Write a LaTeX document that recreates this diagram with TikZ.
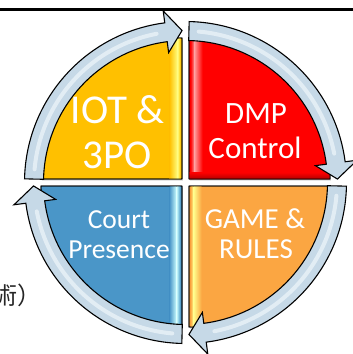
\documentclass[tikz,border=0pt]{standalone}
\usepackage{fontspec}
\setmainfont{Carlito}
\newfontfamily\jpfont{Noto Sans CJK JP}
\usetikzlibrary{calc}

\definecolor{qyellow}{HTML}{FFC000}
\definecolor{qred}{HTML}{FF0000}
\definecolor{qorange}{HTML}{FBA642}
\definecolor{qblue}{HTML}{4A96C8}
\definecolor{ringfill}{HTML}{C6D9E7}
\definecolor{ringlight}{HTML}{EAF2F8}

\tikzset{
  wedge/.style={draw=black, line width=0.9pt, line join=round},
  ringarrow/.style={fill=ringfill, draw=black, line width=1.1pt, line join=miter},
  ringshine/.style={draw=ringlight, line width=4pt, line cap=round, opacity=0.8},
  label/.style={text=white, inner sep=0pt, anchor=base},
}

% one quadrant: corner offset, start angle, end angle, colour
\newcommand{\quadwedge}[4]{%
  \fill[black!35, opacity=0.45] ($(#1)+(0.8,-1.6)$) -- ++(#2:141pt)
    arc[start angle=#2, end angle=#3, radius=141pt] -- cycle;
  \filldraw[wedge, fill=#4] (#1) -- ++(#2:141pt)
    arc[start angle=#2, end angle=#3, radius=141pt] -- cycle;
}

% one ring segment with arrow head: start angle, head base angle, tip angle
\newcommand{\ringseg}[3]{%
  \filldraw[ringarrow] (#1:161pt) arc[start angle=#1, end angle=#2, radius=161pt]
    -- (#2:173pt) -- (#3:152pt) -- (#2:131pt) -- (#2:142pt)
    arc[start angle=#2, end angle=#1, radius=142pt] -- cycle;
}

\begin{document}
\begin{tikzpicture}[x=1pt, y=1pt]
\useasboundingbox (0,0) rectangle (353,-354);

% rule across the top
\draw[line width=2.6pt] (0,-9.5) -- (353,-9.5);

\begin{scope}[shift={(185.5,-182.5)}]
  \coordinate (c) at (0,0);
  \coordinate (ctl) at (-3.5,3.5);
  \coordinate (ctr) at (3.5,3.5);
  \coordinate (cbr) at (3.5,-3.5);
  \coordinate (cbl) at (-3.5,-3.5);

  % the four quadrants
  \quadwedge{ctl}{180}{90}{qyellow}
  \quadwedge{ctr}{90}{0}{qred}
  \quadwedge{cbr}{0}{-90}{qorange}
  \quadwedge{cbl}{-90}{-180}{qblue}

  % glossy stripes along the inner vertical edges
  \begin{scope}
    \clip (ctl) -- ++(180:141pt) arc[start angle=180, end angle=90, radius=141pt] -- cycle;
    \shade[left color=qyellow, right color=yellow!50!white] (-16,3.5) rectangle (-8,150);
    \shade[left color=yellow!50!white, right color=qyellow] (-8,3.5) rectangle (-5,150);
  \end{scope}
  \begin{scope}
    \clip (ctr) -- ++(90:141pt) arc[start angle=90, end angle=0, radius=141pt] -- cycle;
    \shade[left color=qred, right color=red!40!white] (5,3.5) rectangle (9,150);
    \shade[left color=red!40!white, right color=qred] (9,3.5) rectangle (17,150);
    \shade[top color=qred, bottom color=red!70!black] (3.5,10) rectangle (150,3.5);
  \end{scope}
  \begin{scope}
    \clip (cbr) -- ++(0:141pt) arc[start angle=0, end angle=-90, radius=141pt] -- cycle;
    \shade[left color=qorange, right color=yellow!45!white] (5,-3.5) rectangle (8,-150);
    \shade[left color=yellow!45!white, right color=qorange] (8,-3.5) rectangle (16,-150);
  \end{scope}
  \begin{scope}
    \clip (cbl) -- ++(-90:141pt) arc[start angle=-90, end angle=-180, radius=141pt] -- cycle;
    \shade[left color=qblue, right color=cyan!20!white] (-16,-3.5) rectangle (-9,-150);
    \shade[left color=cyan!20!white, right color=qblue] (-9,-3.5) rectangle (-5,-150);
  \end{scope}

  % outline again on top of the stripes
  \draw[wedge] (ctl) -- ++(180:141pt) arc[start angle=180, end angle=90, radius=141pt] -- cycle;
  \draw[wedge] (ctr) -- ++(90:141pt) arc[start angle=90, end angle=0, radius=141pt] -- cycle;
  \draw[wedge] (cbr) -- ++(0:141pt) arc[start angle=0, end angle=-90, radius=141pt] -- cycle;
  \draw[wedge] (cbl) -- ++(-90:141pt) arc[start angle=-90, end angle=-180, radius=141pt] -- cycle;

  % circular arrows around the quadrants
  \ringseg{178.7}{97.4}{91.3}
  \ringseg{88.7}{7.4}{1.3}
  \ringseg{-1.3}{-82.6}{-88.7}
  \ringseg{-91.3}{-172.6}{-178.7}

  % soft highlight along each ring segment
  \draw[ringshine] (175:151.5pt) arc[start angle=175, end angle=101, radius=151.5pt];
  \draw[ringshine] (85:151.5pt) arc[start angle=85, end angle=11, radius=151.5pt];
  \draw[ringshine] (-5:151.5pt) arc[start angle=-5, end angle=-79, radius=151.5pt];
  \draw[ringshine] (-95:151.5pt) arc[start angle=-95, end angle=-169, radius=151.5pt];
\end{scope}

% quadrant captions
\node[label, font=\fontsize{41}{45}\selectfont] (iot) at (117.5,-123) {IOT \&};
\node[label, font=\fontsize{41}{45}\selectfont] (tpo) at (117.5,-168) {3PO};
\node[label, font=\fontsize{31}{35}\selectfont] (dmp) at (256,-123) {DMP};
\node[label, font=\fontsize{31}{35}\selectfont] (ctrl) at (255,-158) {Control};
\node[label, font=\fontsize{27.5}{30}\selectfont] (court) at (119,-228) {Court};
\node[label, font=\fontsize{27.5}{30}\selectfont] (pres) at (119,-258) {Presence};
\node[label, font=\fontsize{29}{30}\selectfont] (game) at (255,-228) {GAME \&};
\node[label, font=\fontsize{29}{30}\selectfont] (rules) at (256,-258) {RULES};

% text running in from the left edge
\node[anchor=base west, inner sep=0pt, text=black!85, font=\jpfont\fontsize{24}{28}\selectfont] (jp) at (-7,-304) {術）};
\end{tikzpicture}
\end{document}
